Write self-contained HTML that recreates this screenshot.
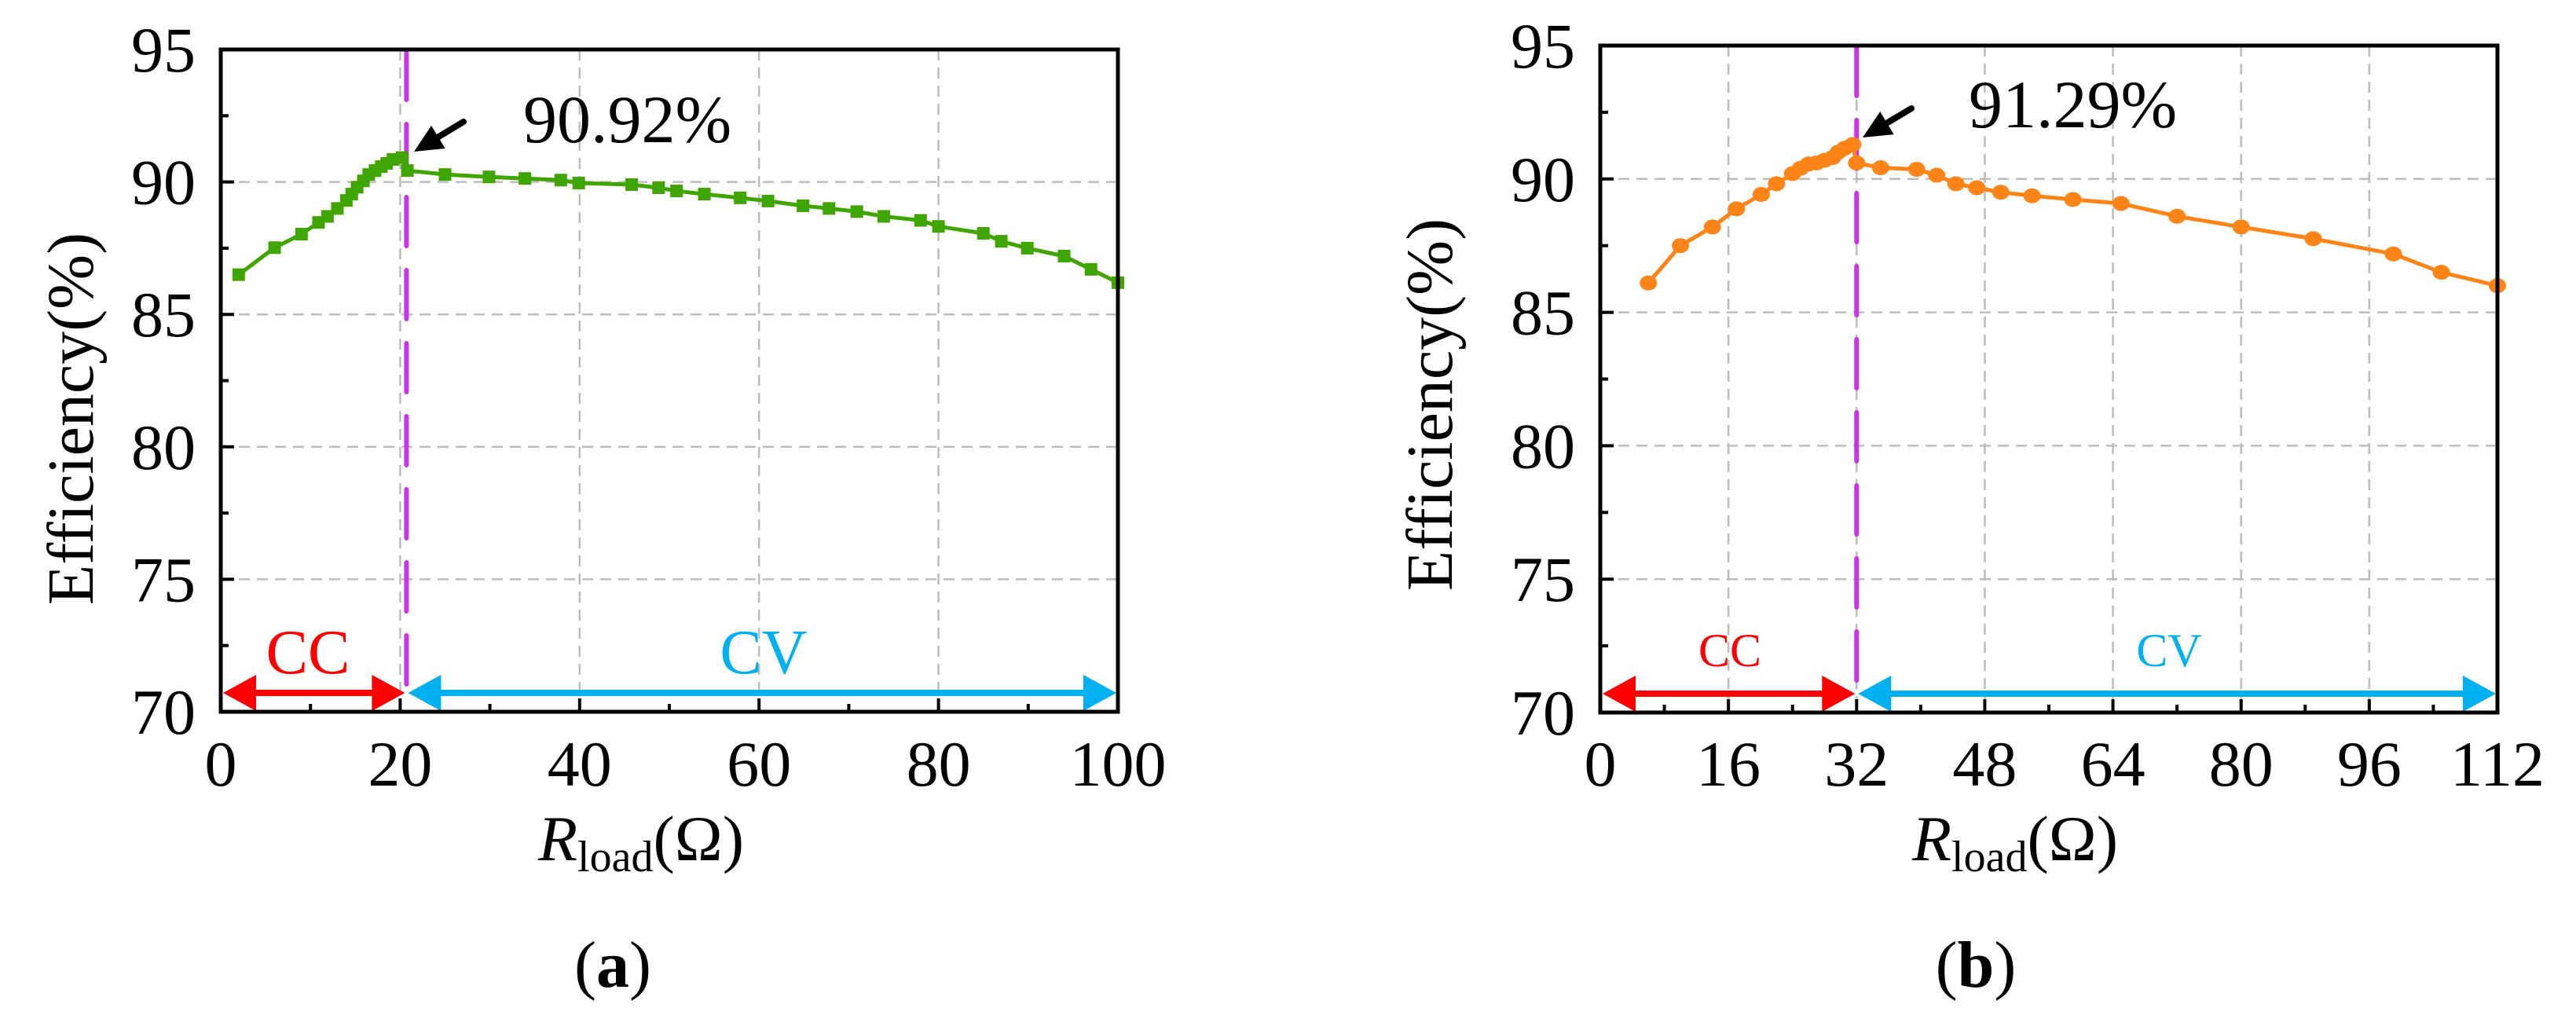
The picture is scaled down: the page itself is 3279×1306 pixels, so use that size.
<!DOCTYPE html>
<html><head><meta charset="utf-8"><style>
html,body{margin:0;padding:0;background:#fff;}
svg{display:block;font-family:"Liberation Serif","DejaVu Serif",serif;}
</style></head><body>
<svg id="fig" width="3279" height="1306" viewBox="0 0 3279 1306" xmlns="http://www.w3.org/2000/svg"></svg>
<script>
// Panel (a) data
const aX = [2,6,9,10.9,11.9,13,14,14.6,15.2,15.9,16.5,17.2,17.9,18.5,19.2,20.2,20.8,25,29.9,33.9,37.9,39.9,45.8,48.8,50.8,53.9,57.9,61,64.9,67.8,70.9,73.9,78,80,85,87,89.9,94,97,100];
const aY = [86.5,87.52,88.03,88.47,88.7,89.0,89.3,89.54,89.8,90.04,90.28,90.43,90.58,90.7,90.85,90.92,90.43,90.28,90.19,90.13,90.07,89.96,89.9,89.78,89.66,89.54,89.4,89.28,89.1,89.0,88.88,88.7,88.55,88.32,88.06,87.76,87.5,87.2,86.7,86.2];
const aXTicks = [0,20,40,60,80,100];
const aYTicks = [70,75,80,85,90,95];
// Panel (b) data
const bX = [6,10,14,17,20.1,22,24,25,26,27,28,29,29.7,30.5,31.5,32,35,39.5,42,44.4,47,50,53.9,59,65,72,80,89,99,105,112];
const bY = [86.1,87.5,88.2,88.88,89.42,89.82,90.2,90.4,90.56,90.6,90.7,90.8,91.0,91.15,91.29,90.6,90.42,90.36,90.14,89.82,89.67,89.5,89.37,89.23,89.08,88.6,88.2,87.76,87.19,86.5,86.0];
const bXTicks = [0,16,32,48,64,80,96,112];
const bYTicks = [70,75,80,85,90,95];

const NS = "http://www.w3.org/2000/svg";
const svg = document.getElementById('fig');
function mk(tag, attrs, parent, text){
  const e = document.createElementNS(NS, tag);
  for (const k in attrs) e.setAttribute(k, attrs[k]);
  if (text !== undefined) e.textContent = text;
  (parent||svg).appendChild(e);
  return e;
}

function panel(cfg){
  const g = mk('g', {});
  
  
  const sx = v => cfg.x0 + (v - cfg.xmin) / (cfg.xmax - cfg.xmin) * (cfg.x1 - cfg.x0);
  const sy = v => cfg.yb - (v - 70) / 25 * (cfg.yb - cfg.yt);
  // grid
  cfg.xt.forEach((t,i) => {
    if (i === 0 || i === cfg.xt.length-1) return;
    const l = mk('line', {x1:sx(t), x2:sx(t), y1:cfg.yt, y2:cfg.yb, stroke:'#bdbdbd', 'stroke-width':2.5, 'stroke-dasharray':'14 9'}, g);
    
    
  });
  cfg.yt_.forEach((t,i) => {
    if (i === 0 || i === cfg.yt_.length-1) return;
    const l = mk('line', {x1:cfg.x0, x2:cfg.x1, y1:sy(t), y2:sy(t), stroke:'#bdbdbd', 'stroke-width':2.5, 'stroke-dasharray':'14 9'}, g);
    
    
  });
  // magenta divider
  const dv = mk('line', {x1:sx(cfg.div), x2:sx(cfg.div), y1:cfg.yt+2, y2:cfg.yb-20, stroke:'#CC33E6', 'stroke-width':6, 'stroke-dasharray':'62 31', 'stroke-linecap':'round'}, g);
  
  
  // series
  const pts = cfg.X.map((x,i) => sx(x)+','+sy(cfg.Y[i])).join(' ');
  const pl = mk('polyline', {points:pts, fill:'none', stroke:cfg.color, 'stroke-width':5}, g);
  
  
  cfg.X.forEach((x,i) => {
    let m;
    if (cfg.marker === 'square') m = mk('rect', {x:sx(x)-8, y:sy(cfg.Y[i])-8, width:16, height:16, fill:cfg.color}, g);
    else m = mk('ellipse', {cx:sx(x), cy:sy(cfg.Y[i]), rx:11, ry:9.5, fill:cfg.color}, g);
    
    
  });
  // CC / CV arrows
  const ay = cfg.yb - 24;
  function dblArrow(xa, xb, col, nm){
    const p = `M${xa},${ay} L${xa+42},${ay-23} L${xa+42},${ay-4} L${xb-42},${ay-4} L${xb-42},${ay-23} L${xb},${ay} L${xb-42},${ay+23} L${xb-42},${ay+4} L${xa+42},${ay+4} L${xa+42},${ay+23} Z`;
    const a = mk('path', {d:p, fill:col}, g);
    
    
  }
  dblArrow(cfg.x0+3, sx(cfg.div)-2, '#FF0000', 'cc-arrow');
  dblArrow(sx(cfg.div)+2, cfg.x1-2, '#00B0F0', 'cv-arrow');
  const cc = mk('text', {x:cfg.ccX, y:cfg.ccY, 'font-size':cfg.ccSize, fill:'#FF0000', 'text-anchor':'middle'}, g, 'CC');
  
  
  const cv = mk('text', {x:cfg.cvX, y:cfg.ccY, 'font-size':cfg.ccSize, fill:'#00B0F0', 'text-anchor':'middle'}, g, 'CV');
  
  
  // frame
  const fr = mk('rect', {x:cfg.x0, y:cfg.yt, width:cfg.x1-cfg.x0, height:cfg.yb-cfg.yt, fill:'none', stroke:'#000', 'stroke-width':5}, g);
  
  
  // x ticks
  cfg.xt.forEach((t,i) => {
    mk('line', {x1:sx(t), x2:sx(t), y1:cfg.yb, y2:cfg.yb-17, stroke:'#000', 'stroke-width':4}, g);
    if (i < cfg.xt.length-1) {
      const mv = (t + cfg.xt[i+1]) / 2;
      mk('line', {x1:sx(mv), x2:sx(mv), y1:cfg.yb, y2:cfg.yb-10, stroke:'#000', 'stroke-width':4}, g);
    }
    const tl = mk('text', {x:sx(t), y:1000, 'font-size':82, 'text-anchor':'middle'}, g, String(t));
    
    
  });
  // y ticks
  cfg.yt_.forEach((t,i) => {
    mk('line', {x1:cfg.x0, x2:cfg.x0+17, y1:sy(t), y2:sy(t), stroke:'#000', 'stroke-width':4}, g);
    if (i < cfg.yt_.length-1) {
      const mv = (t + cfg.yt_[i+1]) / 2;
      mk('line', {x1:cfg.x0, x2:cfg.x0+10, y1:sy(mv), y2:sy(mv), stroke:'#000', 'stroke-width':4}, g);
    }
    const tl = mk('text', {x:cfg.x0-32, y:sy(t)+28, 'font-size':82, 'text-anchor':'end'}, g, String(t));
    
    
  });
  // y title
  const yt = mk('text', {x:0, y:0, 'font-size':84, 'text-anchor':'middle', transform:`translate(${cfg.ytX},${cfg.ytY}) rotate(-90)`}, g, 'Efficiency(%)');
  
  
  // x title
  const xt = mk('text', {x:cfg.xtX, y:1095, 'font-size':82, 'text-anchor':'middle'}, g);
  
  
  mk('tspan', {'font-style':'italic'}, xt, 'R');
  mk('tspan', {'font-size':56, dy:14}, xt, 'load');
  mk('tspan', {dy:-14}, xt, '(Ω)');
  // annotation
  const an = mk('text', {x:cfg.anX, y:cfg.anY, 'font-size':86}, g, cfg.anText);
  
  
  const ar = cfg.arrow;
  mk('line', {x1:ar[0], y1:ar[1], x2:ar[2]+(ar[0]-ar[2])*0.35, y2:ar[3]+(ar[1]-ar[3])*0.35, stroke:'#000', 'stroke-width':8, 'stroke-linecap':'round'}, g);
  const dx = ar[0]-ar[2], dy = ar[1]-ar[3], L = Math.hypot(dx,dy), ux = dx/L, uy = dy/L;
  const bx = ar[2]+ux*36, by = ar[3]+uy*36;
  const ah = mk('path', {d:`M${ar[2]},${ar[3]} L${bx-uy*17},${by+ux*17} L${bx+uy*17},${by-ux*17} Z`, fill:'#000'}, g);
  
  
  // caption
  const cap = mk('text', {x:cfg.capX, y:1256, 'font-size':84, 'text-anchor':'middle'}, g);
  
  
  mk('tspan', {}, cap, '(');
  mk('tspan', {'font-weight':'bold'}, cap, cfg.capL);
  mk('tspan', {}, cap, ')');
}

panel({name:'panel-a', x0:281, x1:1423, xmin:0, xmax:100, yt:63, yb:906, X:aX, Y:aY, xt:aXTicks, yt_:aYTicks,
  color:'#3FA500', marker:'square', div:20.7, ccX:392, cvX:972, ccY:857, ccSize:80,
  ytX:118, ytY:533, xtX:816, anX:666, anY:181, anText:'90.92%', arrow:[590,155,527,193], capX:780, capL:'a'});
panel({name:'panel-b', x0:2037, x1:3179, xmin:0, xmax:112, yt:58, yb:907, X:bX, Y:bY, xt:bXTicks, yt_:bYTicks,
  color:'#FF8418', marker:'circle', div:32, ccX:2202, cvX:2761, ccY:848, ccSize:60,
  ytX:1848, ytY:515, xtX:2565, anX:2506, anY:162, anText:'91.29%', arrow:[2433,138,2371,175], capX:2515, capL:'b'});
</script>
</body></html>
